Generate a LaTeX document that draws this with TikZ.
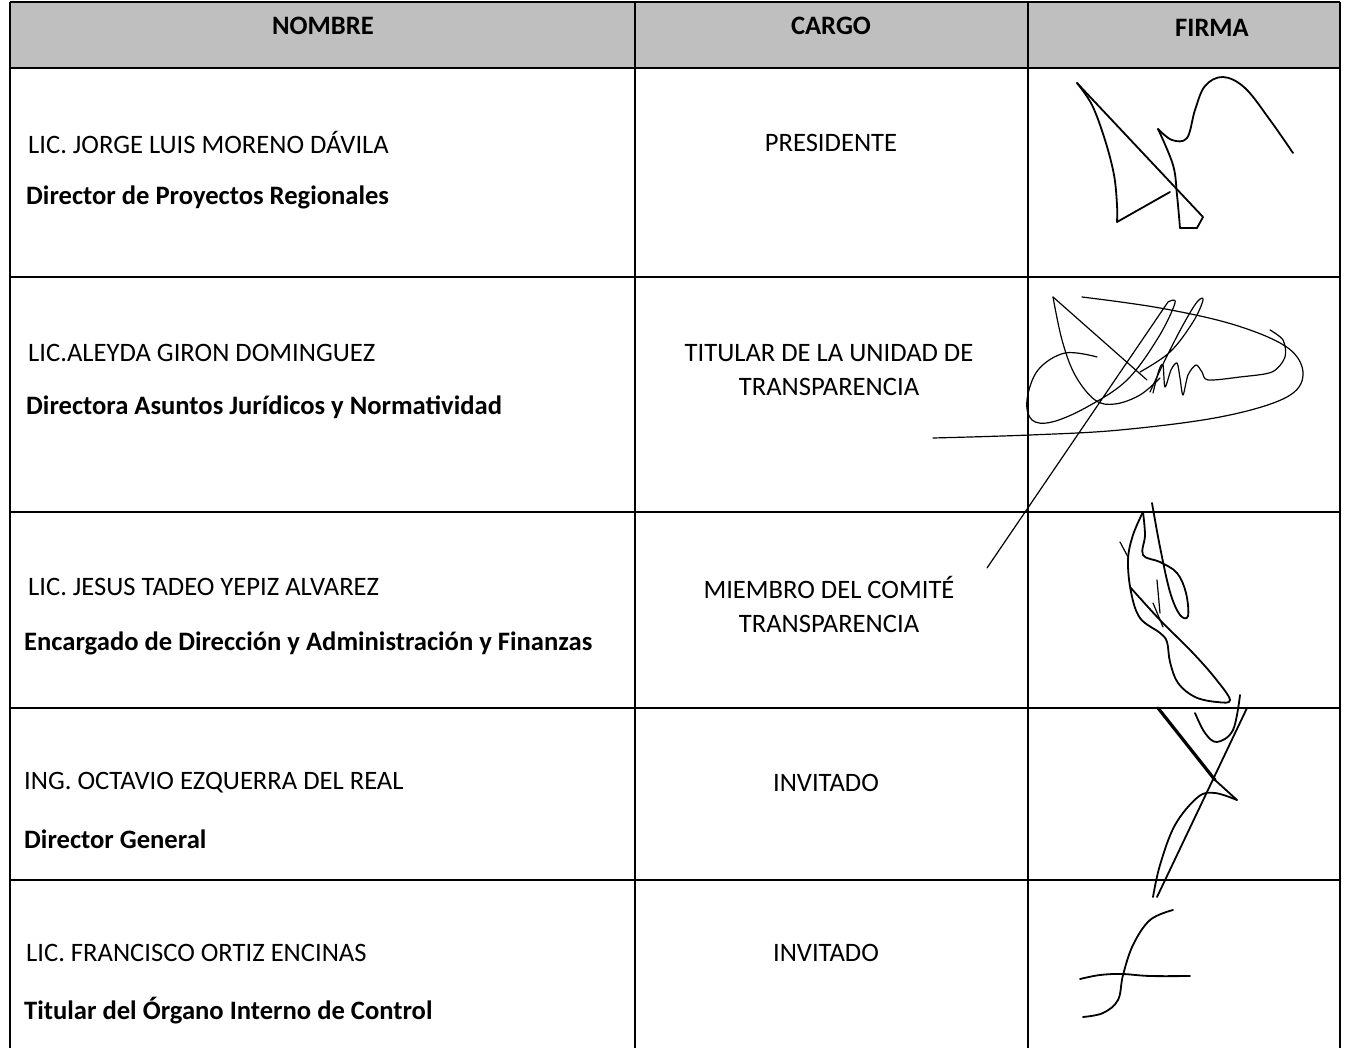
\documentclass[tikz,border=0pt]{standalone}
\usepackage{fontspec}
\setmainfont{Carlito}
\begin{document}
\begin{tikzpicture}[x=1pt,y=-1pt,
  rule/.style={line width=1.3pt, black},
  txt/.style={font=\fontsize{26.6}{30}\selectfont, inner sep=0pt},
  hdr/.style={font=\fontsize{26.6}{30}\selectfont\bfseries, inner sep=0pt},
  nm/.style={txt, anchor=west},
  ttl/.style={font=\fontsize{26.6}{30}\selectfont\bfseries, inner sep=0pt, anchor=west},
  cg/.style={txt, align=center},
  sig/.style={line width=1.8pt, line cap=round, line join=round},
  sigthin/.style={line width=1.2pt, line cap=round, line join=round}]
\useasboundingbox (0,0) rectangle (1345,1048);
\fill[white] (0,0) rectangle (1345,1048);
% header band
\fill[black!25] (10,2) rectangle (1340,68);
% grid
\draw[rule] (10,2) -- (1340,2);
\foreach \yy in {68,277,512,708,880} \draw[rule] (10,\yy) -- (1340,\yy);
\foreach \xx in {10,635,1028,1340} \draw[rule] (\xx,2) -- (\xx,1048);
% header
\node[hdr] (h1) at (323,26) {NOMBRE};
\node[hdr] (h2) at (831,26) {CARGO};
\node[hdr] (h3) at (1212,28) {FIRMA};
% rows
\node[nm] (n1) at (28,143) {LIC. JORGE LUIS MORENO DÁVILA};
\node[ttl] (t1) at (26,197) {Director de Proyectos Regionales};
\node[cg] (c1) at (831,143) {PRESIDENTE};
\node[nm] (n2) at (28,353) {LIC.ALEYDA GIRON DOMINGUEZ};
\node[ttl] (t2) at (26,407) {Directora Asuntos Jurídicos y Normatividad};
\node[cg] (c2) at (829,370) {TITULAR DE LA UNIDAD DE\\[4pt]TRANSPARENCIA};
\node[nm] (n3) at (28,587) {LIC. JESUS TADEO YEPIZ ALVAREZ};
\node[ttl] (t3) at (24,643) {Encargado de Dirección y Administración y Finanzas};
\node[cg] (c3) at (829,604) {MIEMBRO DEL COMITÉ\\[4pt]TRANSPARENCIA};
\node[nm] (n4) at (24,783) {ING. OCTAVIO EZQUERRA DEL REAL};
\node[ttl] (t4) at (24,839) {Director General};
\node[cg] (c4) at (826,783) {INVITADO};
\node[nm] (n5) at (26,953) {LIC. FRANCISCO ORTIZ ENCINAS};
\node[ttl] (t5) at (24,1011) {Titular del Órgano Interno de Control};
\node[cg] (c5) at (826,953) {INVITADO};
% signature 1
\draw[sig] (1077,83) -- (1203,217) -- (1197,228) -- (1180,228);
\draw[sig] plot[smooth,tension=0.6] coordinates {(1180,228) (1177,195) (1173,165) (1158,129)};
\draw[sig] plot[smooth,tension=0.6] coordinates {(1158,129) (1172,140) (1187,138) (1195,110) (1205,86) (1223,77) (1245,88) (1270,120) (1293,153)};
\draw[sig] plot[smooth,tension=0.6] coordinates {(1077,83) (1092,105) (1105,140) (1114,175) (1117,205) (1117,222)} -- (1170,192);
% signature 2
\draw[sigthin] plot[smooth,tension=0.6] coordinates {(933,438) (1030,435) (1120,430) (1220,417) (1285,398) (1303,375) (1288,348) (1235,325) (1160,308) (1082,297)};
\draw[sigthin] plot[smooth,tension=0.6] coordinates {(1097,357) (1065,353) (1038,370) (1027,400) (1032,420) (1052,422) (1087,407) (1127,380) (1158,338) (1175,303) (1168,302)} -- (987,568);
\draw[sigthin] (1053,297) -- (1147,380);
\draw[sigthin] plot[smooth,tension=0.6] coordinates {(1053,297) (1062,340) (1075,375) (1095,400) (1115,404) (1140,395) (1160,378)};
\draw[sigthin] plot[smooth,tension=0.6] coordinates {(1140,372) (1170,352) (1193,322) (1203,300) (1197,302) (1183,325) (1165,360) (1150,392)};
\draw[sigthin] plot[smooth,tension=0.5] coordinates {(1153,393) (1159,370) (1163,365) (1165,387) (1171,370) (1177,363) (1180,378) (1183,395) (1188,375) (1196,365) (1202,372) (1208,380) (1240,377) (1272,372) (1285,357) (1283,340) (1270,330)};
% signature 3
\draw[sig] plot[smooth,tension=0.6] coordinates {(1143,512) (1133,535) (1128,560) (1131,592) (1140,618) (1160,633) (1167,642) (1170,662) (1178,683) (1195,697) (1217,702) (1230,700) (1215,678) (1192,652) (1160,620) (1130,587)};
\draw[sig] plot[smooth,tension=0.6] coordinates {(1143,512) (1145,535) (1143,555) (1160,562) (1177,573) (1186,593) (1188,616) (1180,615) (1170,592) (1160,547) (1152,503)};
\draw[sigthin] (1120,542) -- (1128,557);
\draw[sigthin] (1157,580) -- (1160,613);
\draw[sigthin] (1153,603) -- (1163,627);
% signature 4
\draw[sig, line width=3.2pt] (1158,708) -- (1215,780);
\draw[sig] (1215,780) -- (1237,800);
\draw[sig] plot[smooth,tension=0.6] coordinates {(1195,713) (1205,733) (1217,742) (1233,730) (1240,695)};
\draw[sig] (1247,708) -- (1157,897);
\draw[sig] plot[smooth,tension=0.6] coordinates {(1237,800) (1215,793) (1198,797) (1175,825) (1160,865) (1153,897)};
% signature 5
\draw[sig] plot[smooth,tension=0.6] coordinates {(1173,910) (1150,920) (1133,945) (1123,975) (1118,1000) (1103,1013) (1083,1017)};
\draw[sig] plot[smooth,tension=0.6] coordinates {(1080,979) (1100,975) (1122,974) (1150,976) (1190,976)};
\end{tikzpicture}
\end{document}
